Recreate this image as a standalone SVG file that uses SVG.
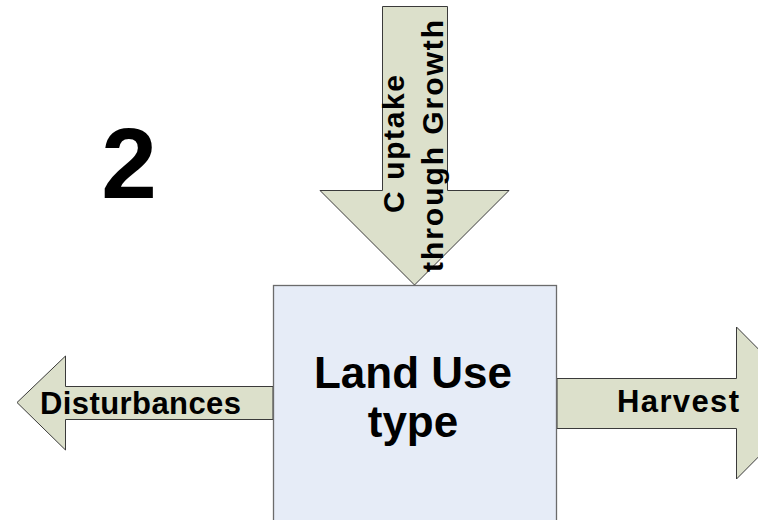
<svg xmlns="http://www.w3.org/2000/svg" width="758" height="520" viewBox="0 0 758 520">
<defs>
<style>
.arrow{fill:#DCE0CB;stroke:#3a3a3a;stroke-width:1}
.box{fill:#E6ECF7;stroke:#6b6b6b;stroke-width:1.3}
text{font-family:"Liberation Sans",Arial,sans-serif;font-weight:bold;fill:#000}
</style>
</defs>
<rect width="758" height="520" fill="#ffffff"/>
<g id="label-2"><text x="129" y="198" font-size="100" text-anchor="middle">2</text></g>
<g id="connectors">
<g id="uptake-arrow">
<polygon class="arrow" points="382.5,6.5 447.5,6.5 447.5,190.5 509,190.5 414.5,285 320,190.5 382.5,190.5"/>
<text transform="translate(404,144) rotate(-90)" font-size="30" text-anchor="middle" textLength="138" lengthAdjust="spacing">C uptake</text>
<text transform="translate(443,146) rotate(-90)" font-size="30" text-anchor="middle" textLength="252" lengthAdjust="spacing">through Growth</text>
</g>
<g id="disturbances-arrow">
<polygon class="arrow" points="273,386.5 65.5,386.5 65.5,356 17,402.5 65.5,450 65.5,419.5 273,419.5"/>
<text x="40" y="414" font-size="31" textLength="201" lengthAdjust="spacing">Disturbances</text>
</g>
<g id="harvest-arrow">
<polygon class="arrow" points="557,378.5 736.5,378.5 736.5,327 812,403 736.5,479 736.5,428.5 557,428.5"/>
<text x="617" y="412" font-size="31" textLength="122" lengthAdjust="spacing">Harvest</text>
</g>
</g>
<g id="land-use-node">
<rect class="box" x="273.5" y="285.5" width="283" height="250"/>
<text x="413" y="388" font-size="44" text-anchor="middle">Land Use</text>
<text x="413" y="437" font-size="44" text-anchor="middle">type</text>
</g>
</svg>
